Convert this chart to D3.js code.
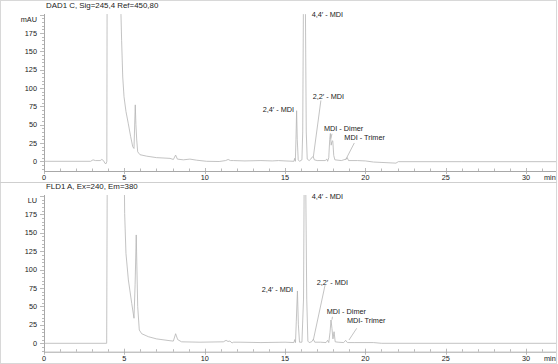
<!DOCTYPE html>
<html><head><meta charset="utf-8">
<script src="https://cdn.jsdelivr.net/npm/d3@7"></script>
<style>
html,body{margin:0;padding:0;background:#fff;}
svg{display:block;font-family:"Liberation Sans",Arial,sans-serif;}
</style></head>
<body><svg id="c" width="558" height="364"></svg>
<script>
// ---------- DATA ----------
const panelTitles = ["DAD1 C, Sig=245,4 Ref=450,80", "FLD1 A, Ex=240, Em=380"];
const unitLabels = ["mAU", "LU"];
const yTicks = [0, 25, 50, 75, 100, 125, 150, 175];
const xTicks = [0, 5, 10, 15, 20, 25, 30];
const xUnit = "min";

// DAD1 C chromatogram (time in min, signal in mAU); off-scale values are clipped
const dadTime = [0, 2.9, 3.05, 3.2, 3.5, 3.6, 3.7, 3.8, 3.87, 3.91, 3.93, 4.78, 4.79, 4.83, 4.90, 4.98, 5.10, 5.24, 5.39, 5.52, 5.60, 5.68, 5.72, 5.77, 5.83, 5.97, 6.39, 7.0, 7.84, 8.05, 8.19, 8.30, 8.67, 9.08, 9.5, 10.12, 10.9, 11.3, 11.46, 11.6, 11.78, 12.5, 13.5, 14.2, 14.6, 15.0, 15.55, 15.6, 15.64, 15.68, 15.72, 15.76, 15.82, 15.9, 16.05, 16.10, 16.14, 16.18, 16.24, 16.27, 16.32, 16.38, 16.5, 16.6, 16.7, 16.76, 16.82, 17.0, 17.5, 17.6, 17.65, 17.72, 17.78, 17.82, 17.87, 17.92, 17.97, 18.03, 18.1, 18.5, 18.8, 18.87, 18.95, 19.5, 20.0, 20.5, 21.9, 22.05, 26, 31.9];
const dadSignal = [0, 0, 2, 1, 1, 2.5, 1, -3, -3, 0, 260, 260, 200, 165, 115, 88, 68, 52, 34, 20, 17.5, 77, 50, 29, 13, 9, 7, 5, 4, 2.5, 8.5, 3, 2, 3, 1.5, 0, -0.3, 1, 2.5, 1, 1, 0.5, 1, 0.5, 1, 0.5, 0, 4, 0, 30, 69, 30, 2, 0, 2, 40, 200, 260, 260, 200, 40, 3, 1, 3, 6, 6, 2, 1, 1, 3, 0, 5, 30, 38, 22, 27, 28, 8, 2, 1, 3, 5, 1, 1, 0.5, -1, -2.5, -0.5, -0.5, -0.5];

// FLD1 A chromatogram (time in min, signal in LU)
const fldTime = [0, 3.9, 3.94, 4.98, 5.02, 5.10, 5.25, 5.46, 5.60, 5.67, 5.74, 5.83, 5.93, 6.08, 6.49, 7.0, 7.84, 8.05, 8.19, 8.32, 8.56, 9.7, 11.16, 11.33, 11.45, 11.57, 11.7, 11.8, 12.2, 13.5, 15.0, 15.55, 15.6, 15.65, 15.7, 15.77, 15.83, 15.9, 16.05, 16.15, 16.2, 16.27, 16.35, 16.42, 16.5, 16.65, 16.76, 16.85, 17.2, 17.55, 17.65, 17.72, 17.8, 17.86, 17.92, 17.98, 18.05, 18.12, 18.3, 18.65, 18.77, 18.88, 19.3, 20.5, 21, 31.9];
const fldSignal = [0, 0, 260, 260, 176, 122, 86, 54, 34, 80, 147, 50, 18, 13, 9, 6, 3.5, 3, 13, 5, 2, 1.5, 2, 4, 2.5, 3, 0.5, 1.5, 1.5, 1, 1.5, 1, 5, 1, 30, 71, 25, 1.5, 1.5, 60, 260, 260, 60, 3, 1, 2, 5.4, 1.5, 1.5, 1, 4, 1, 15, 31.6, 20, 6, 15.7, 2, 1.5, 1, 4, 1, 1, 1, 0, 0];

// peak annotation texts
const dadLabels = ["2,4′ - MDI", "4,4′ - MDI", "2,2′ - MDI", "MDI - Dimer", "MDI - Trimer"];
const fldLabels = ["2,4′ - MDI", "4,4′ - MDI", "2,2′ - MDI", "MDI - Dimer", "MDI- Trimer"];

// ---------- LAYOUT ----------
const svg = d3.select("#c");
const W = 558, H = 364;
const textColor = "#222", lineColor = "#b4b4b4", axisColor = "#a8a8a8";

svg.append("rect").attr("x", 0.5).attr("y", 0.5).attr("width", W - 2).attr("height", H - 1)
  .attr("fill", "none").attr("stroke", "#d8d8d8");
svg.append("line").attr("x1", 0).attr("x2", W - 1).attr("y1", 182.5).attr("y2", 182.5)
  .attr("stroke", "#cfcfcf");

const panels = [
  { top: 14, zeroY: 161.3, y175: 33, axisY: 171, title: panelTitles[0], unit: unitLabels[0],
    time: dadTime, sig: dadSignal, labels: dadLabels,
    labelPos: [
      { t: 15.56, v: 67, anchor: "end" },
      { t: 16.66, v: 196.6, anchor: "start" },
      { t: 16.72, v: 85, anchor: "start", lead: [[17.23, 83], [16.76, 6]] },
      { t: 17.42, v: 41.7, anchor: "start", lead: [[17.92, 37.5], [17.85, 31]] },
      { t: 18.69, v: 29, anchor: "start", lead: [[19.31, 25], [18.77, 2]] }
    ] },
  { top: 195, zeroY: 343.3, y175: 214.3, axisY: 351.7, title: panelTitles[1], unit: unitLabels[1],
    time: fldTime, sig: fldSignal, labels: fldLabels,
    labelPos: [
      { t: 15.5, v: 69.6, anchor: "end" },
      { t: 16.66, v: 196, anchor: "start" },
      { t: 16.97, v: 79.5, anchor: "start", lead: [[17.49, 79], [16.76, 4.5]] },
      { t: 17.59, v: 39.8, anchor: "start", lead: [[17.95, 36], [17.92, 32]] },
      { t: 18.85, v: 27.5, anchor: "start", lead: [[19.46, 20.4], [18.98, 4.5]] }
    ] }
];

const x = d3.scaleLinear().domain([0, 30]).range([44, 526.1]);
const xRight = W - 2;

panels.forEach((p, i) => {
  const y = d3.scaleLinear().domain([0, 175]).range([p.zeroY, p.y175]);
  const g = svg.append("g");

  g.append("text").attr("x", 46).attr("y", p.top - 6).attr("font-size", 7.9)
    .attr("fill", textColor).text(p.title);

  const clipId = "clip" + i;
  svg.append("clipPath").attr("id", clipId).append("rect")
    .attr("x", 44).attr("y", p.top).attr("width", xRight - 44).attr("height", p.axisY - p.top);

  g.append("line").attr("x1", 44.5).attr("x2", 44.5).attr("y1", p.top).attr("y2", p.axisY)
    .attr("stroke", axisColor).attr("stroke-width", 1);
  const yMin = y.invert(p.axisY), yMax = y.invert(p.top);
  d3.range(Math.ceil(yMin / 5) * 5, yMax, 5).forEach(v => {
    const major = v % 25 === 0;
    g.append("line").attr("x1", major ? 40 : 42).attr("x2", 44)
      .attr("y1", Math.round(y(v)) + 0.5).attr("y2", Math.round(y(v)) + 0.5)
      .attr("stroke", axisColor).attr("stroke-width", 0.8);
  });
  yTicks.forEach(v => {
    g.append("text").attr("x", 37).attr("y", y(v)).attr("dy", "0.35em")
      .attr("text-anchor", "end").attr("font-size", 7.3).attr("fill", textColor).text(v);
  });
  g.append("text").attr("x", 37).attr("y", p.top + 5).attr("dy", "0.35em")
    .attr("text-anchor", "end").attr("font-size", 7.3).attr("fill", textColor).text(p.unit);

  g.append("line").attr("x1", 44).attr("x2", xRight).attr("y1", p.axisY + 0.5).attr("y2", p.axisY + 0.5)
    .attr("stroke", axisColor).attr("stroke-width", 1);
  d3.range(0, 32, 1).forEach(t => {
    const major = t % 5 === 0;
    const xx = Math.round(x(t)) + 0.5;
    g.append("line").attr("x1", xx).attr("x2", xx)
      .attr("y1", major ? p.axisY - 3 : p.axisY - 2.5).attr("y2", major ? p.axisY + 3 : p.axisY)
      .attr("stroke", axisColor).attr("stroke-width", 0.8);
  });
  xTicks.forEach(t => {
    g.append("text").attr("x", x(t)).attr("y", p.axisY + 6.5).attr("dy", "0.35em")
      .attr("text-anchor", "middle").attr("font-size", 7.3).attr("fill", textColor).text(t);
  });
  g.append("text").attr("x", 544).attr("y", p.axisY + 6.5).attr("dy", "0.35em")
    .attr("font-size", 7.3).attr("fill", textColor).text(xUnit);

  const pts = p.time.map((t, k) => [t, p.sig[k]]);
  const line = d3.line().x(d => x(d[0])).y(d => y(d[1]));
  g.append("path").attr("d", line(pts)).attr("clip-path", `url(#${clipId})`)
    .attr("fill", "none").attr("stroke", lineColor).attr("stroke-width", 0.8);

  p.labelPos.forEach((lp, k) => {
    g.append("text").attr("x", x(lp.t)).attr("y", y(lp.v)).attr("text-anchor", lp.anchor)
      .attr("font-size", 7.3).attr("fill", textColor).text(p.labels[k]);
    if (lp.lead) {
      g.append("line").attr("x1", x(lp.lead[0][0])).attr("y1", y(lp.lead[0][1]))
        .attr("x2", x(lp.lead[1][0])).attr("y2", y(lp.lead[1][1]))
        .attr("stroke", lineColor).attr("stroke-width", 0.8);
    }
  });
});
</script></body></html>
